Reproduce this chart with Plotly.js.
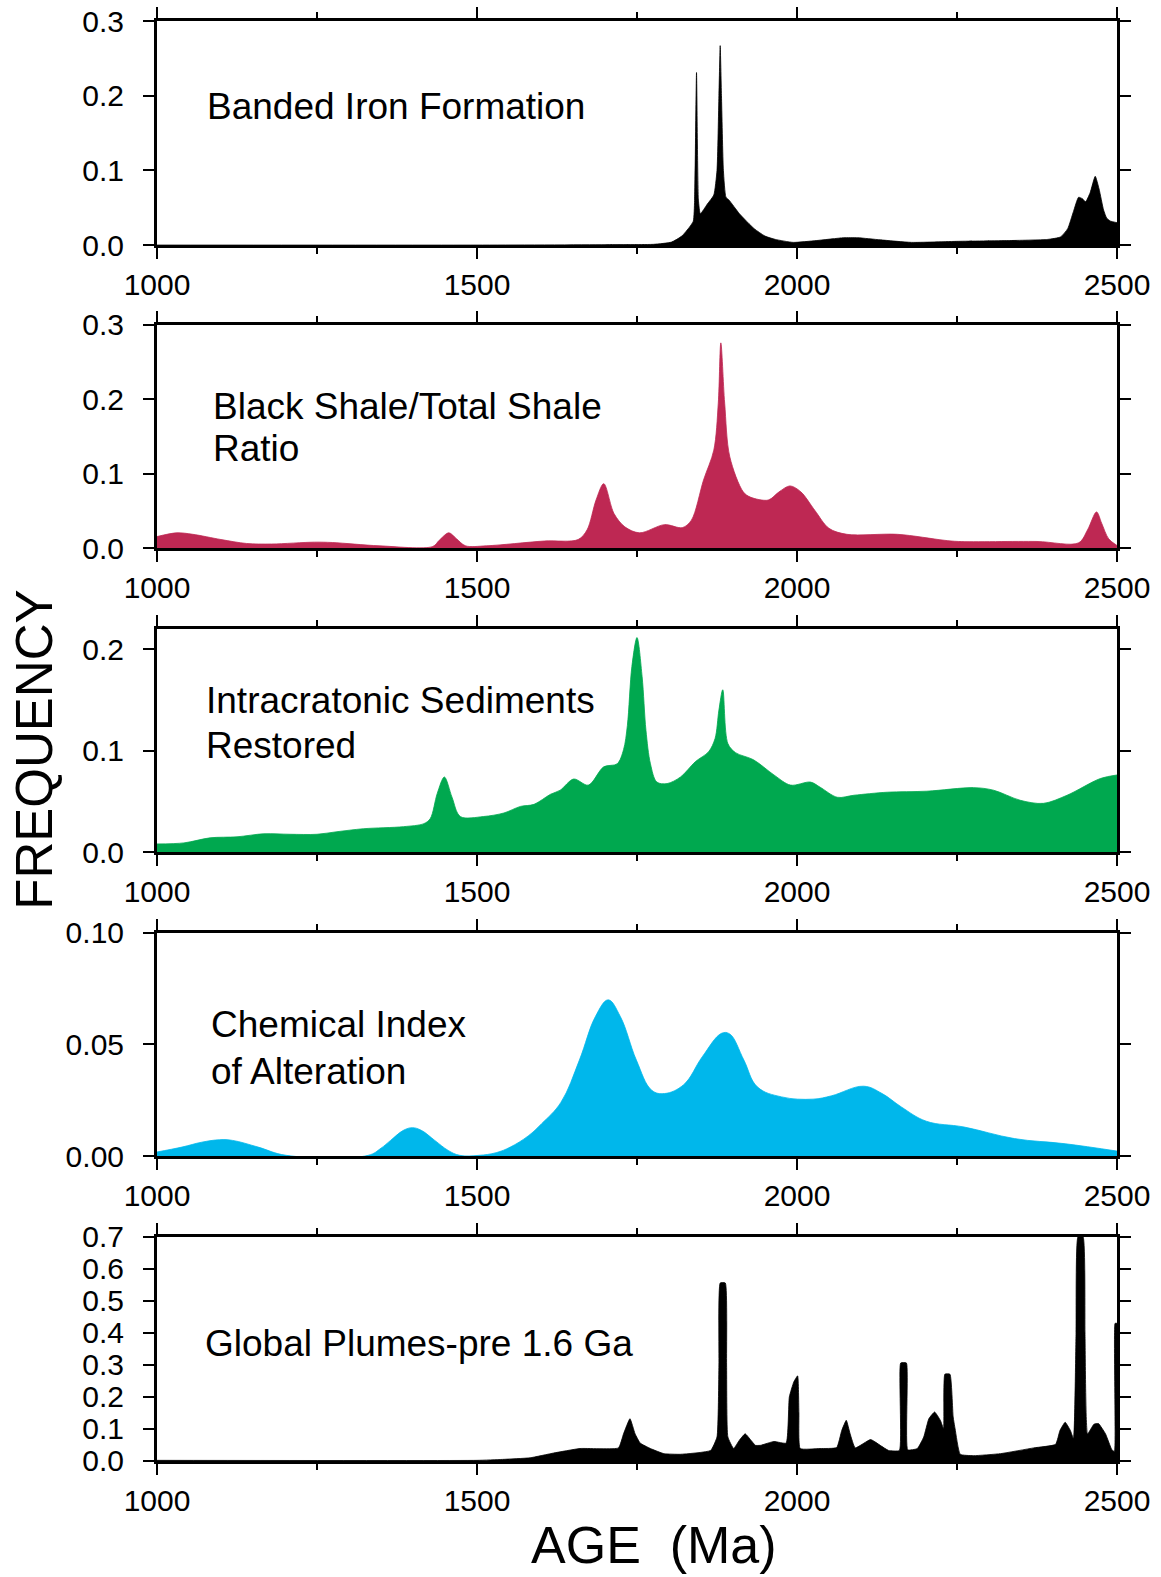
<!DOCTYPE html>
<html>
<head>
<meta charset="utf-8">
<script src="https://cdn.plot.ly/plotly-3.0.1.min.js"></script>
<style>html,body{margin:0;padding:0;background:#fff;}#chart{width:1161px;height:1577px;}</style>
</head>
<body>
<div id="chart"></div>
<script>
// ---------- DATA ----------
const xTickVals = [1000, 1500, 2000, 2500];
const xMinorVals = [1250, 1750, 2250];

const panelLabels = [
  ["Banded Iron Formation"],
  ["Black Shale/Total Shale", "Ratio"],
  ["Intracratonic Sediments", "Restored"],
  ["Chemical Index", "of Alteration"],
  ["Global Plumes-pre 1.6 Ga"]
];

const ageBIF = [1000,1500,1700,1776,1804,1820,1832,1838,1840,1843,1846,1849,1860,1870,1875,1878,1880,1882,1885,1889,1894,1910,1933,1950,1966,1994,2030,2073,2095,2130,2179,2252,2330,2392,2412,2423,2432,2440,2446,2451,2458,2466,2472,2479,2484,2490,2500];
const freqBIF = [0,0,0.0005,0.001,0.004,0.012,0.024,0.032,0.06,0.231,0.06,0.042,0.055,0.067,0.1,0.2,0.267,0.2,0.1,0.064,0.060,0.042,0.022,0.012,0.0076,0.0036,0.006,0.0098,0.0098,0.007,0.0036,0.005,0.006,0.0076,0.011,0.022,0.045,0.064,0.062,0.058,0.07,0.092,0.075,0.047,0.036,0.032,0.030];

const ageShale = [1000,1031,1056,1100,1140,1179,1246,1274,1347,1431,1441,1456,1468,1482,1515,1605,1658,1672,1686,1698,1714,1731,1754,1793,1821,1835,1854,1870,1877,1881,1887,1895,1916,1927,1955,1972,1989,2006,2028,2050,2078,2157,2230,2252,2375,2440,2454,2468,2476,2487,2500];
const freqShale = [0.016,0.021,0.019,0.012,0.0067,0.006,0.0085,0.008,0.0036,0.0027,0.011,0.021,0.013,0.0036,0.0036,0.010,0.012,0.025,0.065,0.087,0.047,0.029,0.021,0.032,0.028,0.038,0.092,0.132,0.195,0.276,0.195,0.123,0.076,0.069,0.065,0.076,0.084,0.076,0.051,0.027,0.019,0.019,0.011,0.0094,0.0094,0.0076,0.025,0.049,0.034,0.013,0.004];

const ageIntra = [1000,1042,1083,1125,1167,1208,1250,1281,1323,1385,1417,1427,1438,1449,1461,1474,1510,1542,1568,1589,1615,1630,1651,1674,1698,1719,1729,1735,1742,1750,1758,1764,1771,1781,1797,1818,1841,1862,1872,1878,1884,1892,1904,1932,1964,1990,2021,2036,2063,2089,2141,2203,2276,2307,2349,2385,2422,2474,2500];
const freqIntra = [0.008,0.009,0.014,0.015,0.018,0.0175,0.0175,0.020,0.023,0.025,0.028,0.033,0.058,0.074,0.054,0.035,0.035,0.0385,0.045,0.047,0.057,0.061,0.072,0.066,0.084,0.087,0.101,0.125,0.183,0.2115,0.173,0.12,0.087,0.069,0.0675,0.074,0.089,0.099,0.112,0.14,0.160,0.107,0.098,0.091,0.076,0.066,0.069,0.064,0.054,0.056,0.059,0.060,0.0635,0.061,0.051,0.048,0.056,0.0725,0.076];

const ageCIA = [1000,1039,1070,1098,1118,1158,1202,1330,1350,1365,1385,1399,1413,1434,1455,1473,1503,1530,1552,1580,1601,1631,1660,1685,1705,1724,1749,1773,1793,1823,1852,1882,1895,1917,1938,1976,2025,2054,2104,2133,2163,2202,2261,2340,2419,2500];
const freqCIA = [0.0018,0.004,0.0062,0.0073,0.007,0.004,0.0003,0.0003,0.0035,0.007,0.0115,0.0127,0.0115,0.007,0.0025,0.0003,0.0003,0.0015,0.004,0.009,0.0145,0.024,0.043,0.0625,0.070,0.0625,0.043,0.0295,0.028,0.032,0.0445,0.055,0.0547,0.043,0.031,0.0265,0.0255,0.027,0.0313,0.028,0.022,0.0156,0.013,0.0078,0.0055,0.0022];

const agePlume = [1000,1500,1540,1583,1620,1661,1721,1729,1739,1747,1755,1771,1792,1818,1865,1875,1878,1880,1888,1890,1892,1901,1910,1919,1928,1935,1943,1964,1983,1988,1995,2001,2003,2005,2036,2062,2070,2077,2083,2091,2115,2130,2143,2160,2162,2171,2173,2188,2198,2206,2215,2224,2229,2231,2239,2244,2247,2255,2276,2318,2370,2404,2411,2419,2427,2432,2436,2439,2447,2450,2454,2464,2471,2482,2492,2496,2497,2500];
const freqPlume = [0.002,0.002,0.005,0.010,0.025,0.039,0.041,0.085,0.132,0.085,0.056,0.039,0.023,0.021,0.033,0.075,0.3,0.556,0.556,0.3,0.075,0.039,0.065,0.085,0.065,0.049,0.049,0.061,0.056,0.20,0.247,0.266,0.15,0.039,0.039,0.042,0.096,0.127,0.085,0.041,0.067,0.049,0.033,0.033,0.306,0.306,0.035,0.039,0.075,0.132,0.153,0.127,0.101,0.271,0.271,0.1375,0.101,0.021,0.0167,0.023,0.041,0.052,0.096,0.121,0.096,0.070,0.4,0.70,0.70,0.4,0.085,0.115,0.117,0.085,0.035,0.03,0.43,0.43];

const yRanges = [[0,0.3],[0,0.3],[0,0.22],[0,0.1],[0,0.7]];
const yDticks = [0.1,0.1,0.1,0.05,0.1];
const yFormats = [".1f",".1f",".1f",".2f",".1f"];
const colors = ["#000000","#BE2853","#00A84F","#00B7EB","#000000"];

// ---------- STYLE / LAYOUT ----------
const series = [[ageBIF,freqBIF],[ageShale,freqShale],[ageIntra,freqIntra],[ageCIA,freqCIA],[agePlume,freqPlume]];
const smooth = [0.5, 0.9, 0.9, 1.1, 0.4];
const domains = [[0.8444,1.0],[0.6337,0.7889],[0.4229,0.5778],[0.2118,0.3667],[0.0,0.1556]];
const labelX = [0.050,0.056,0.049,0.0545,0.048];
const labelY = [[0.6205],[0.636,0.4465],[0.680,0.4755],[0.588,0.378],[0.526]];
const FONT = "'Liberation Sans', Arial, Helvetica, sans-serif";

const traces = [];
const layout = {
  width: 1161, height: 1577,
  margin: {l: 157, r: 44, t: 21, b: 116},
  paper_bgcolor: "#ffffff", plot_bgcolor: "#ffffff",
  showlegend: false,
  font: {family: FONT, color: "#000000"},
  annotations: []
};

series.forEach((s, i) => {
  const n = i === 0 ? "" : String(i + 1);
  traces.push({
    x: s[0], y: s[1], type: "scatter", mode: "lines",
    fill: "tozeroy", fillcolor: colors[i],
    line: {color: colors[i], width: 0.8, shape: "spline", smoothing: smooth[i]},
    xaxis: "x" + n, yaxis: "y" + n, hoverinfo: "skip"
  });
  layout["xaxis" + n] = {
    domain: [0, 1], anchor: "y" + n, range: [1000, 2500],
    tickmode: "array", tickvals: xTickVals, ticktext: xTickVals.map(String),
    ticks: "outside", ticklen: 11, tickwidth: 2, tickcolor: "#000",
    minor: {tickmode: "array", tickvals: xMinorVals, ticks: "outside", ticklen: 6, tickwidth: 2, tickcolor: "#000"},
    showline: true, linewidth: 3, linecolor: "#000", mirror: "ticks",
    showgrid: false, zeroline: false, fixedrange: true,
    tickfont: {family: FONT, size: 30, color: "#000"},
    ticklabelstandoff: 0
  };
  layout["yaxis" + n] = {
    domain: domains[i], anchor: "x" + n, range: yRanges[i],
    tickmode: "linear", tick0: 0, dtick: yDticks[i], tickformat: yFormats[i],
    ticks: "outside", ticklen: 11, tickwidth: 2, tickcolor: "#000",
    showline: true, linewidth: 3, linecolor: "#000", mirror: "ticks",
    showgrid: false, zeroline: false, fixedrange: true,
    tickfont: {family: FONT, size: 30, color: "#000"},
    ticklabelstandoff: 13
  };
  panelLabels[i].forEach((txt, j) => {
    layout.annotations.push({
      text: txt, xref: "x" + n + " domain", yref: "y" + n + " domain",
      x: labelX[i], y: labelY[i][j], xanchor: "left", yanchor: "middle",
      showarrow: false, font: {family: FONT, size: 37, color: "#000"}
    });
  });
});

layout.annotations.push({
  text: "FREQUENCY", xref: "paper", yref: "paper", x: -0.127, y: 0.494,
  xanchor: "center", yanchor: "middle", textangle: -90, showarrow: false,
  font: {family: FONT, size: 51, color: "#000"}
});
layout.annotations.push({
  text: "AGE\u00A0\u00A0(Ma)", xref: "paper", yref: "paper", x: 0.518, y: -0.058,
  xanchor: "center", yanchor: "middle", showarrow: false,
  font: {family: FONT, size: 52, color: "#000"}
});

Plotly.newPlot("chart", traces, layout, {displayModeBar: false, staticPlot: true});
</script>
</body>
</html>
